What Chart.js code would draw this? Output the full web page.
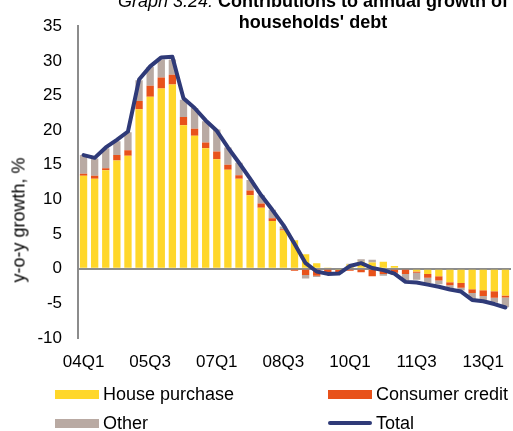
<!DOCTYPE html>
<html>
<head>
<meta charset="utf-8">
<script src="https://cdn.jsdelivr.net/npm/chart.js@4"></script>
<style>
  body { margin: 0; background: #fff; font-family: "Liberation Sans", Arial, sans-serif; }
  #wrap { position: relative; width: 513px; height: 431px; overflow: hidden; }
  #title { position: absolute; left: 113px; width: 400px; top: -8.7px; text-align: center;
    font-size: 18px; line-height: 21px; font-weight: bold; white-space: nowrap; color: #000; }
  #title i { font-weight: normal; }
  #ytitle { position: absolute; left: 19px; top: 220px; transform: translate(-50%, -50%) rotate(-90deg);
    font-size: 18px; font-weight: normal; white-space: nowrap; color: #000; }
  .leg { position: absolute; font-size: 18px; line-height: 20px; color: #000; white-space: nowrap; }
  .sw { position: absolute; }
</style>
</head>
<body>
<div id="wrap">
  <canvas id="chart" width="513" height="431"></canvas>
  <div id="title"><i>Graph 3.24:</i> Contributions to annual growth of<br>households' debt</div>
  <div id="ytitle">y-o-y growth, %</div>
  <div id="legend"></div>
</div>
<script>
const quarters = [
  '04Q1','04Q2','04Q3','04Q4','05Q1','05Q2','05Q3','05Q4',
  '06Q1','06Q2','06Q3','06Q4','07Q1','07Q2','07Q3','07Q4',
  '08Q1','08Q2','08Q3','08Q4','09Q1','09Q2','09Q3','09Q4',
  '10Q1','10Q2','10Q3','10Q4','11Q1','11Q2','11Q3','11Q4',
  '12Q1','12Q2','12Q3','12Q4','13Q1','13Q2','13Q3'
];

const housePurchase = [
  13.4, 13.0, 14.2, 15.6, 16.3, 23.0, 24.8, 26.0, 26.6, 20.7,
  19.2, 17.4, 15.8, 14.3, 13.0, 10.6, 8.8, 6.9, 5.5, 4.1,
  2.1, 0.8, 0.1, -0.2, 0.6, 1.0, 0.9, 1.0, 0.4, -0.15,
  -0.4, -0.75, -1.1, -1.95, -2.05, -2.95, -3.1, -3.25, -3.85
];

const consumerCredit = [
  0.3, 0.4, 0.3, 0.8, 0.8, 1.2, 1.6, 1.6, 1.4, 1.2,
  1.0, 0.8, 1.1, 0.7, 0.5, 0.7, 0.6, 0.4, 0.2, -0.3,
  -0.9, -1.0, -0.5, -0.3, -0.3, -0.5, -1.1, -0.75, -0.6, -0.6,
  -0.2, -0.55, -0.6, -0.45, -0.7, -0.55, -0.85, -0.95, -0.3
];

const other = [
  2.7, 2.5, 2.9, 2.0, 2.6, 3.0, 2.7, 2.6, 2.2, 2.5,
  3.0, 3.1, 3.2, 2.5, 1.8, 1.5, 1.2, 1.2, 0.4, 0,
  -0.5, -0.2, -0.3, -0.2, 0.1, 0.35, 0.4, -0.25, -0.3, -1.0,
  -1.0, -0.75, -0.55, -0.45, -0.4, -0.95, -0.65, -0.7, -1.4
];

const total = [
  16.4, 16.0, 17.5, 18.6, 19.8, 27.3, 29.2, 30.5, 30.6, 24.6,
  23.2, 21.4, 19.9, 17.5, 15.3, 13.0, 10.6, 8.5, 6.3, 3.6,
  0.8, -0.4, -0.75, -0.7, 0.4, 0.8, 0.1, -0.2, -0.7, -1.9,
  -2.0, -2.3, -2.6, -3.0, -3.3, -4.5, -4.7, -5.1, -5.6
];

const yTicks = [35, 30, 25, 20, 15, 10, 5, 0, -5, -10];

const colors = {
  house: '#FFD72A',
  consumer: '#E8521B',
  other: '#B9AAA3',
  total: '#2F3A78',
  axis: '#8C8C8C'
};

const barStyle = { type: 'bar', stack: 'parts', order: 2, barPercentage: 0.66, categoryPercentage: 1 };

const datasets = [
  { ...barStyle, label: 'House purchase', data: housePurchase, backgroundColor: colors.house },
  { ...barStyle, label: 'Consumer credit', data: consumerCredit, backgroundColor: colors.consumer },
  { ...barStyle, label: 'Other', data: other, backgroundColor: colors.other },
  {
    type: 'line', label: 'Total', data: total, stack: 'line', order: 1,
    borderColor: colors.total, borderWidth: 4, pointRadius: 0, tension: 0,
    borderJoinStyle: 'round', borderCapStyle: 'round', fill: false
  }
];

const tickFont = { family: '"Liberation Sans", Arial, sans-serif', size: 17 };

new Chart(document.getElementById('chart'), {
  data: { labels: quarters, datasets: datasets },
  options: {
    responsive: false,
    devicePixelRatio: 1,
    animation: false,
    layout: { padding: { left: 0, top: 22, right: 2, bottom: 0 } },
    plugins: { legend: { display: false }, tooltip: { enabled: false } },
    scales: {
      x: {
        stacked: true,
        grid: { display: false },
        border: { display: false },
        ticks: {
          autoSkip: false, maxRotation: 0, padding: 6, color: '#000', font: tickFont,
          callback: (v, i) => (i % 6 === 0 ? quarters[i] : '')
        },
        afterFit: s => { s.height = 93; }
      },
      y: {
        stacked: true,
        min: -10, max: 35,
        afterBuildTicks: s => { s.ticks = yTicks.map(v => ({ value: v })); },
        grid: {
          drawTicks: false,
          lineWidth: 2,
          color: c => (c.tick && c.tick.value === 0 ? colors.axis : 'rgba(0,0,0,0)')
        },
        border: { display: true, color: colors.axis, width: 2 },
        ticks: { padding: 16, color: '#000', font: tickFont },
        afterFit: s => { s.width = 78; }
      }
    }
  }
});

// legend, two columns like the original
const legendPos = [
  { x: 55, y: 394 }, { x: 328, y: 394 }, { x: 55, y: 423 }, { x: 328, y: 423 }
];
const legend = document.getElementById('legend');
datasets.forEach((d, i) => {
  const p = legendPos[i];
  const sw = document.createElement('div');
  sw.className = 'sw';
  if (d.type === 'line') {
    sw.style.cssText = `left:${p.x}px;top:${p.y - 2}px;width:44px;height:4px;border-radius:2px;background:${d.borderColor}`;
  } else {
    sw.style.cssText = `left:${p.x}px;top:${p.y - 4.5}px;width:44px;height:9px;background:${d.backgroundColor}`;
  }
  legend.appendChild(sw);
  const t = document.createElement('div');
  t.className = 'leg';
  t.style.left = (p.x + 48) + 'px';
  t.style.top = (p.y - 10) + 'px';
  t.textContent = d.label;
  legend.appendChild(t);
});
</script>
</body>
</html>
